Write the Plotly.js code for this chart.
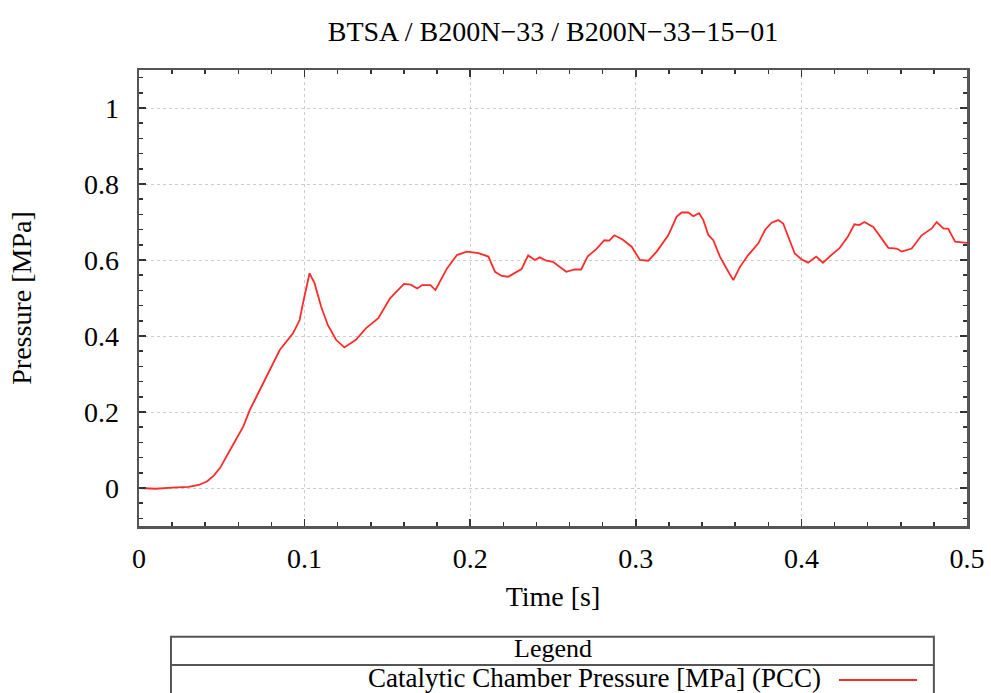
<!DOCTYPE html>
<html>
<head>
<meta charset="utf-8">
<script src="https://cdn.plot.ly/plotly-3.0.1.min.js"></script>
<style>html,body{margin:0;padding:0;background:#fff;}#chart{width:991px;height:693px;}</style>
</head>
<body>
<div id="chart"></div>
<script>
const chartTitle = "BTSA / B200N\u221233 / B200N\u221233\u221215\u221201";
const xTitle = "Time [s]";
const yTitle = "Pressure [MPa]";
const legendTitle = "Legend";
const seriesName = "Catalytic Chamber Pressure [MPa] (PCC)";

const time = [
  0, 0.01, 0.02, 0.03, 0.036, 0.041, 0.045, 0.049, 0.055, 0.063,
  0.067, 0.075, 0.081, 0.085, 0.093, 0.097, 0.099, 0.103, 0.106, 0.110,
  0.114, 0.119, 0.124, 0.131, 0.137, 0.1445, 0.1516, 0.160, 0.164, 0.168,
  0.171, 0.176, 0.179, 0.186, 0.192, 0.198, 0.205, 0.211, 0.215, 0.219,
  0.223, 0.231, 0.235, 0.239, 0.242, 0.246, 0.250, 0.258, 0.263, 0.267,
  0.271, 0.276, 0.281, 0.284, 0.287, 0.292, 0.2975, 0.3025, 0.3075, 0.3126,
  0.3196, 0.3247, 0.3277, 0.3317, 0.3347, 0.3382, 0.3408, 0.3438, 0.3468, 0.3508,
  0.3559, 0.3589, 0.3629, 0.3679, 0.374, 0.378, 0.382, 0.386, 0.389, 0.392,
  0.396, 0.400, 0.404, 0.409, 0.413, 0.418, 0.423, 0.428, 0.432, 0.435,
  0.438, 0.4434, 0.4475, 0.4525, 0.4575, 0.4606, 0.4666, 0.4726, 0.4787, 0.4817,
  0.4857, 0.4887, 0.4928, 0.4988, 0.5
];
const pressure = [
  0.000, -0.002, 0.001, 0.003, 0.008, 0.017, 0.032, 0.053, 0.100, 0.162,
  0.206, 0.276, 0.328, 0.363, 0.407, 0.442, 0.486, 0.565, 0.539, 0.477,
  0.429, 0.390, 0.370, 0.390, 0.420, 0.447, 0.499, 0.537, 0.535, 0.525,
  0.534, 0.534, 0.521, 0.578, 0.613, 0.622, 0.618, 0.609, 0.569, 0.558,
  0.556, 0.576, 0.612, 0.600, 0.607, 0.598, 0.595, 0.569, 0.575, 0.575,
  0.610, 0.628, 0.652, 0.651, 0.665, 0.654, 0.635, 0.600, 0.598, 0.622,
  0.665, 0.714, 0.725, 0.725, 0.715, 0.723, 0.705, 0.666, 0.652, 0.609,
  0.569, 0.547, 0.582, 0.613, 0.644, 0.679, 0.698, 0.705, 0.696, 0.661,
  0.617, 0.602, 0.593, 0.609, 0.593, 0.613, 0.631, 0.661, 0.694, 0.692,
  0.700, 0.687, 0.663, 0.632, 0.630, 0.622, 0.630, 0.665, 0.683, 0.700,
  0.683, 0.682, 0.648, 0.645, 0.645
];
const xTickVals = [0, 0.1, 0.2, 0.3, 0.4, 0.5];
const xTickText = ["0", "0.1", "0.2", "0.3", "0.4", "0.5"];
const yTickVals = [0, 0.2, 0.4, 0.6, 0.8, 1];
const yTickText = ["0", "0.2", "0.4", "0.6", "0.8", "1"];

const FONT = "Liberation Serif, Times New Roman, serif";
const FS = 28;
const lineColor = "#ff2a2a";
const axisColor = "#555555";

const trace = {
  x: time, y: pressure, type: "scatter", mode: "lines", name: seriesName,
  line: {color: lineColor, width: 1.8}, showlegend: false, hoverinfo: "x+y"
};

const axisCommon = {
  showline: true, linecolor: axisColor, linewidth: 2.5, mirror: "ticks",
  ticks: "inside", ticklen: 7, tickwidth: 1.5, tickcolor: "#333",
  showgrid: true, gridcolor: "#cccccc", griddash: "dot", gridwidth: 1,
  zeroline: false, tickfont: {family: FONT, size: FS, color: "#000"},
  tickmode: "array"
};

const layout = {
  width: 991, height: 693,
  margin: {l: 139, r: 24, t: 70, b: 167},
  paper_bgcolor: "#fff", plot_bgcolor: "#fff",
  font: {family: FONT, color: "#000"},
  title: {text: chartTitle, font: {family: FONT, size: FS, color: "#000"},
          x: 0.5, xref: "paper", y: 0.955, yref: "container", yanchor: "middle"},
  xaxis: Object.assign({}, axisCommon, {
    range: [0, 0.5], tickvals: xTickVals, ticktext: xTickText,
    minor: {dtick: 0.02, tick0: 0, ticks: "inside", ticklen: 4, tickcolor: "#333", showgrid: false},
    ticklabelstandoff: 6,
    title: {text: xTitle, font: {family: FONT, size: FS, color: "#000"}, standoff: 14}
  }),
  yaxis: Object.assign({}, axisCommon, {
    range: [-0.1, 1.1], tickvals: yTickVals, ticktext: yTickText,
    minor: {dtick: 0.04, tick0: 0, ticks: "inside", ticklen: 4, tickcolor: "#333", showgrid: false},
    ticklabelstandoff: 12,
    title: {text: yTitle, font: {family: FONT, size: FS, color: "#000"}, standoff: 44}
  }),
  shapes: [
    {type: "rect", xref: "paper", yref: "paper", x0: 0.0386, x1: 0.960, y0: -0.45, y1: -0.2428,
     line: {color: axisColor, width: 2}, fillcolor: "rgba(0,0,0,0)"},
    {type: "line", xref: "paper", yref: "paper", x0: 0.0386, x1: 0.960, y0: -0.3048, y1: -0.3048,
     line: {color: axisColor, width: 2}},
    {type: "line", xref: "paper", yref: "paper", x0: 0.8454, x1: 0.9396, y0: -0.3377, y1: -0.3377,
     line: {color: lineColor, width: 2}}
  ],
  annotations: [
    {text: legendTitle, xref: "paper", yref: "paper", x: 0.4994, y: -0.2697, xanchor: "center", yanchor: "middle",
     showarrow: false, borderpad: 0, font: {family: FONT, size: 26, color: "#000"}},
    {text: seriesName, xref: "paper", yref: "paper", x: 0.825, y: -0.3333, xanchor: "right", yanchor: "middle",
     showarrow: false, borderpad: 0, font: {family: FONT, size: 27, color: "#000"}}
  ]
};

Plotly.newPlot("chart", [trace], layout, {staticPlot: true, displayModeBar: false});
</script>
</body>
</html>
